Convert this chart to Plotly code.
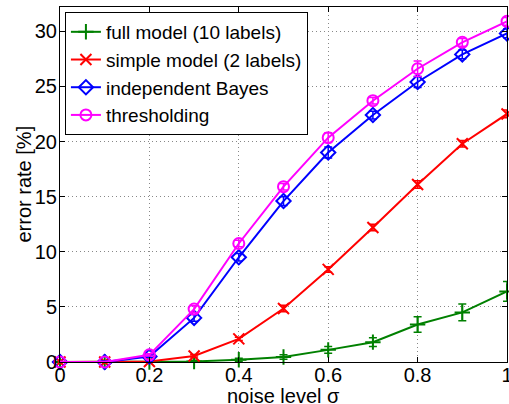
import plotly.graph_objects as go

noise = [0, 0.1, 0.2, 0.3, 0.4, 0.5, 0.6, 0.7, 0.8, 0.9, 1.0]

full_model = [0, 0, 0.0, 0.05, 0.2, 0.45, 1.1, 1.8, 3.4, 4.5, 6.4]
full_err = [0, 0, 0.05, 0.1, 0.15, 0.2, 0.3, 0.4, 0.7, 0.75, 0.9]

simple_model = [0, 0, 0.05, 0.55, 2.1, 4.85, 8.4, 12.2, 16.1, 19.8, 22.5]
simple_err = [0, 0, 0.05, 0.1, 0.15, 0.3, 0.25, 0.3, 0.35, 0.3, 0.35]

indep_bayes = [0, 0, 0.5, 4.0, 9.5, 14.6, 19.0, 22.4, 25.4, 27.9, 29.8]
indep_err = [0.05, 0.1, 0.1, 0.3, 0.35, 0.4, 0.5, 0.35, 0.5, 0.4, 0.4]

thresholding = [0, 0, 0.65, 4.8, 10.75, 15.9, 20.35, 23.7, 26.6, 29.0, 30.9]
thresh_err = [0.05, 0.05, 0.1, 0.3, 0.3, 0.3, 0.45, 0.3, 0.7, 0.35, 0.35]

x_ticks = [0, 0.2, 0.4, 0.6, 0.8, 1]
x_ticktext = ["0", "0.2", "0.4", "0.6", "0.8", "1"]
y_ticks = [0, 5, 10, 15, 20, 25, 30]
x_title = "noise level σ"
y_title = "error rate [%]"

series = [
    ("full model (10 labels)", full_model, full_err, "#008000", "cross-thin-open"),
    ("simple model (2 labels)", simple_model, simple_err, "#ff0000", "x-thin-open"),
    ("independent Bayes", indep_bayes, indep_err, "#0000ff", "diamond-open"),
    ("thresholding", thresholding, thresh_err, "#ff00ff", "circle-open"),
]

fig = go.Figure()
for name, vals, err, color, sym in series:
    fig.add_trace(go.Scatter(
        x=noise, y=vals, name=name, mode="lines+markers",
        line=dict(color=color, width=2),
        marker=dict(symbol=sym, size=11, color=color, line=dict(color=color, width=2)),
        error_y=dict(type="data", array=err, visible=True, color=color, thickness=1.5, width=4),
        cliponaxis=False,
    ))

font = "Liberation Sans"
axis_common = dict(
    showline=True, linecolor="black", linewidth=1, mirror="ticks",
    ticks="inside", ticklen=5, tickcolor="black",
    showgrid=True, gridcolor="#888888", griddash="1px,3px", gridwidth=1,
    zeroline=False, automargin=False, ticklabeloverflow="allow",
)
fig.update_layout(
    width=509, height=404,
    margin=dict(l=60, r=2, t=7, b=42, autoexpand=False),
    paper_bgcolor="white", plot_bgcolor="white",
    font=dict(family=font, size=20, color="black"),
    showlegend=True,
    legend=dict(
        x=0.011, y=0.986, xanchor="left", yanchor="top",
        bgcolor="white", bordercolor="black", borderwidth=1,
        font=dict(size=19), tracegroupgap=0, itemwidth=30,
    ),
    xaxis=dict(range=[0, 1], tickvals=x_ticks, ticktext=x_ticktext,
               ticklabelstandoff=-5, **axis_common),
    yaxis=dict(range=[0, 32.2], tickvals=y_ticks, ticklabelstandoff=-2, **axis_common),
    annotations=[
        dict(text=x_title, xref="paper", yref="paper", x=0.5, y=0,
             xanchor="center", yanchor="middle", yshift=-34, showarrow=False,
             font=dict(size=20)),
        dict(text=y_title, xref="paper", yref="paper", x=0, y=0.5,
             xanchor="center", yanchor="middle", xshift=-37, textangle=-90,
             showarrow=False, font=dict(size=20)),
    ],
)

fig.write_html(
    "out.html",
    config={"displayModeBar": False},
    post_script="document.body.style.margin='0';document.body.style.overflow='hidden';",
)
